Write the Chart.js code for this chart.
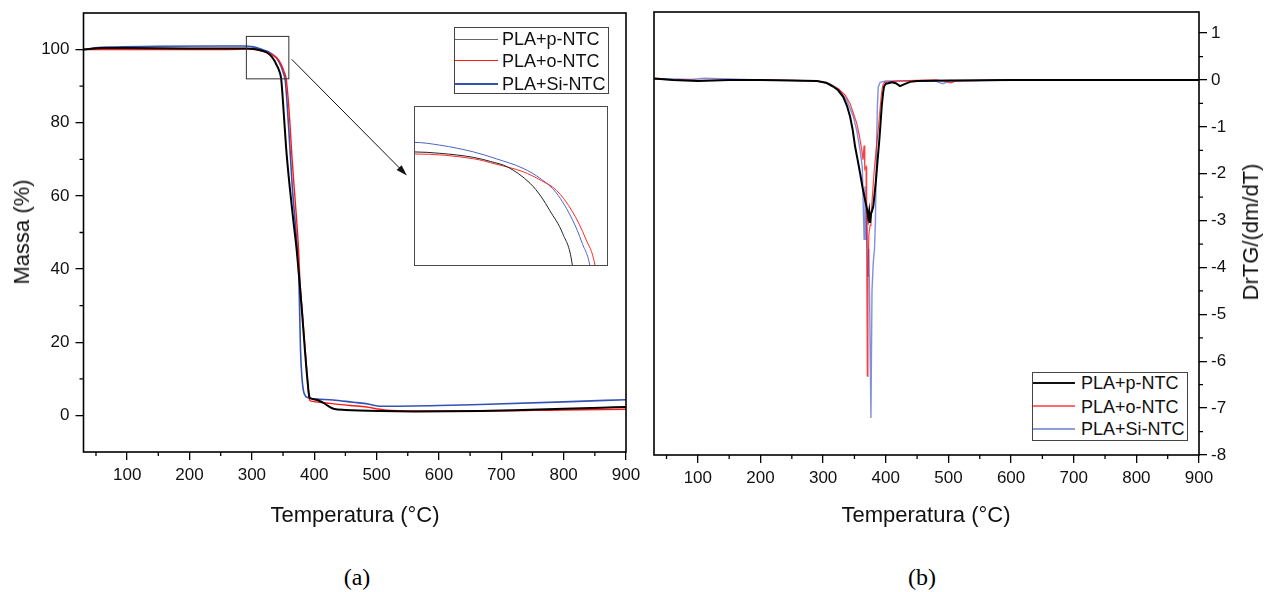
<!DOCTYPE html>
<html>
<head>
<meta charset="utf-8">
<script src="https://cdn.jsdelivr.net/npm/chart.js@4.4.0/dist/chart.umd.min.js"></script>
<style>
body { margin:0; background:#fff; font-family: Arial, "Liberation Sans", sans-serif; }
#wrap { position:relative; width:1274px; height:592px; overflow:hidden; background:#fff; }
.box { position:absolute; }
.t { position:absolute; font-size:22px; color:#111; white-space:nowrap; line-height:26px; }
.leg { position:absolute; border:1px solid #444; background:#fff; box-sizing:border-box; }
.row { position:absolute; left:0; height:22px; line-height:22px; font-size:18px; white-space:nowrap; color:#111; }
.row i { position:absolute; left:0; top:11px; display:block; }
.row span { position:absolute; top:0; }
.cap { position:absolute; font-family:"Liberation Serif","Times New Roman",serif; font-size:24px; line-height:28px; }
</style>
</head>
<body>
<div id="wrap">
  <div class="box" style="left:0;top:0;width:640px;height:540px"><canvas id="tg"></canvas></div>
  <div class="box" style="left:640px;top:0;width:634px;height:540px"><canvas id="dtg"></canvas></div>
  <div class="box" style="left:414px;top:106px;width:194px;height:160px;border:1px solid #4a4a4a;box-sizing:border-box;background:#fff"><canvas id="inset"></canvas></div>

  <div class="leg" id="leg1" style="left:454px;top:27px;width:155px;height:67px"></div>
  <div class="leg" id="leg2" style="left:1032px;top:372px;width:156px;height:69px"></div>

  <div class="t" style="left:255px;top:502px;width:200px;text-align:center">Temperatura (°C)</div>
  <div class="t" style="left:826px;top:502px;width:200px;text-align:center">Temperatura (°C)</div>
  <div class="t" style="left:22px;top:232px;transform:translate(-50%,-50%) rotate(-90deg)">Massa (%)</div>
  <div class="t" style="left:1251px;top:232px;transform:translate(-50%,-50%) rotate(-90deg)">DrTG/(dm/dT)</div>

  <div class="cap" style="left:307px;top:563px;width:100px;text-align:center">(a)</div>
  <div class="cap" style="left:872px;top:563px;width:100px;text-align:center">(b)</div>
</div>
<script>
// series names
const series = ['PLA+p-NTC', 'PLA+o-NTC', 'PLA+Si-NTC'];

// ticks
const xTicks = [100, 200, 300, 400, 500, 600, 700, 800, 900];
const xMinor = [50, 150, 250, 350, 450, 550, 650, 750, 850];
const tgTicks = [0, 20, 40, 60, 80, 100];
const tgMinor = [10, 30, 50, 70, 90];
const dtgTicks = [-8, -7, -6, -5, -4, -3, -2, -1, 0, 1];
const dtgMinor = [-7.5, -6.5, -5.5, -4.5, -3.5, -2.5, -1.5, -0.5, 0.5];

// (a) massa x temperatura
const tgTBlack = [30, 60, 100, 200, 280, 291, 300, 312, 318, 324, 332, 336, 339, 343.6, 347, 350, 355, 361, 366.7, 372, 376.3, 381, 385, 389, 392.3, 395, 405, 414.8, 422, 430.9, 450, 505.8, 560, 666, 720, 800, 860, 900];
const tgMBlack = [100, 100.4, 100.4, 100.3, 100.3, 100.3, 100.2, 99.9, 99.6, 99.2, 98.0, 97.0, 96.0, 94.3, 92.0, 85.5, 73, 62, 53, 45, 37, 27, 18, 10, 5.0, 4.6, 4.2, 3.4, 2.6, 1.8, 1.5, 1.2, 1.1, 1.2, 1.4, 1.8, 2.1, 2.3];

const tgTRed = [30, 100, 200, 280, 291, 312, 320, 329.5, 336, 341.3, 347.1, 351.8, 355, 358, 361, 364, 368, 372, 375, 377, 381, 385.5, 390, 392.5, 395, 420, 457.6, 484.4, 500, 516.5, 560, 666, 800, 900];
const tgMRed = [100, 100.0, 100.0, 100.1, 100.15, 99.8, 99.4, 98.85, 98.2, 97.5, 95.9, 93.9, 92.0, 87, 80, 71.5, 62, 53, 45, 37, 28, 18, 8, 4.2, 3.9, 3.4, 2.7, 2.3, 1.8, 1.4, 1.2, 1.2, 1.5, 1.7];

const tgTBlue = [30, 50, 80, 150, 250, 291, 300, 312, 320, 329.5, 336, 341.3, 347.1, 350.5, 353.6, 356, 358.5, 361.4, 365, 369.4, 373, 375.5, 378, 380.5, 382.7, 386, 388, 393.4, 430, 462.9, 480, 489.7, 505.8, 600, 666, 800, 900];
const tgMBlue = [100, 100.5, 100.7, 100.9, 101.0, 101.0, 100.8, 100.3, 99.8, 99.1, 98.3, 97.3, 95.3, 93.6, 91.5, 86.5, 80, 72, 62, 53, 45, 37, 18, 10, 6.8, 5.3, 5.0, 4.7, 4.2, 3.6, 3.3, 3.0, 2.5, 2.7, 3.0, 3.7, 4.3];

// (b) DrTG x temperatura
const dtgTBlack = [30, 60, 100, 150, 200, 250, 290, 305, 316, 324, 332, 338, 343, 347, 351, 355, 359, 363, 367, 370, 372, 373.5, 375, 376.5, 378, 380, 382, 384.4, 387, 389.7, 391.5, 393.5, 395.5, 397.2, 400, 404, 410, 416, 422.7, 430, 438.7, 450, 500, 600, 700, 800, 900];
const dtgDBlack = [0.03, 0.0, -0.02, 0.0, 0.0, -0.01, -0.02, -0.06, -0.14, -0.22, -0.36, -0.55, -0.78, -1.05, -1.42, -1.7, -1.99, -2.3, -2.56, -2.75, -2.95, -2.8, -3.05, -2.85, -2.8, -2.7, -2.45, -2.13, -1.7, -1.28, -0.95, -0.57, -0.3, -0.14, -0.08, -0.07, -0.05, -0.07, -0.13, -0.09, -0.04, -0.02, -0.01, 0, 0, 0, 0];

const dtgTRed = [30, 100, 200, 290, 310, 325, 335, 342.9, 348, 353.6, 358, 361.6, 363.5, 365.3, 366.5, 368.5, 369.5, 370.5, 371.5, 373, 375, 376.3, 378, 381.5, 385, 388, 391, 393, 395, 397.6, 420, 480, 495, 504, 512, 600, 900];
const dtgDRed = [0.02, -0.01, 0, -0.02, -0.08, -0.2, -0.32, -0.5, -0.7, -0.92, -1.2, -1.49, -1.7, -1.4, -1.9, -1.85, -3.5, -6.32, -4.2, -3.3, -3.1, -2.97, -2.6, -1.93, -1.45, -1.05, -0.6, -0.31, -0.12, -0.05, -0.02, 0, -0.03, -0.06, -0.02, 0, 0];

const dtgTBlue = [30, 90, 110, 200, 290, 310, 325, 337.6, 348.2, 354, 358.9, 362.5, 365.4, 366.8, 368.5, 370, 371.5, 373, 374.5, 376.3, 378, 380, 382, 383.5, 385, 386.5, 388, 391, 400, 480, 491, 500, 600, 900];
const dtgDBlue = [0.03, 0.01, 0.04, 0, -0.02, -0.08, -0.2, -0.43, -0.78, -1.1, -1.49, -1.85, -3.4, -2.27, -3.4, -2.9, -4.2, -3.6, -5.0, -7.21, -4.5, -3.9, -3.6, -3.0, -1.6, -0.6, -0.15, -0.05, -0.02, -0.03, -0.08, -0.03, 0, 0];

// zoom window shown in the inset, and the arrow (data units of chart a)
const zoomT = [291.2, 359.3];
const zoomM = [92.0, 103.6];
const arrowT = [364.1, 548.6];
const arrowM = [97.3, 65.6];

const font = { family: 'Arial, "Liberation Sans", sans-serif', size: 17 };

function pts(xs, ys) {
  return xs.map((x, i) => ({ x: x, y: ys[i] }));
}
function ds(label, xs, ys, color, w, smooth) {
  return {
    label: label, data: pts(xs, ys), borderColor: color, borderWidth: w,
    pointRadius: 0, fill: false,
    cubicInterpolationMode: smooth ? 'monotone' : 'default', tension: 0
  };
}

const framePlugin = {
  id: 'frame',
  afterDatasetsDraw(chart, args, o) {
    if (!o || !o.on) return;
    const ctx = chart.ctx, a = chart.chartArea, x = chart.scales.x, y = chart.scales.y;
    ctx.save();
    ctx.strokeStyle = '#000';
    ctx.lineWidth = 1.6;
    ctx.strokeRect(a.left, a.top, a.right - a.left, a.bottom - a.top);
    ctx.lineWidth = 1.3;
    ctx.beginPath();
    xMinor.forEach(v => {
      const p = x.getPixelForValue(v);
      ctx.moveTo(p, a.bottom); ctx.lineTo(p, a.bottom + 4);
    });
    (o.right ? dtgMinor : tgMinor).forEach(v => {
      const p = y.getPixelForValue(v);
      if (o.right) { ctx.moveTo(a.right, p); ctx.lineTo(a.right + 4, p); }
      else { ctx.moveTo(a.left - 4, p); ctx.lineTo(a.left, p); }
    });
    ctx.stroke();
    if (o.zoom) {
      // zoom rectangle
      const x0 = x.getPixelForValue(zoomT[0]), x1 = x.getPixelForValue(zoomT[1]);
      const y0 = y.getPixelForValue(zoomM[1]), y1 = y.getPixelForValue(zoomM[0]);
      ctx.strokeStyle = '#333';
      ctx.lineWidth = 1;
      ctx.strokeRect(x0, y0, x1 - x0, y1 - y0);
      // arrow
      const ax = x.getPixelForValue(arrowT[0]), ay = y.getPixelForValue(arrowM[0]);
      const bx = x.getPixelForValue(arrowT[1]), by = y.getPixelForValue(arrowM[1]);
      const ang = Math.atan2(by - ay, bx - ax);
      ctx.strokeStyle = '#111';
      ctx.beginPath();
      ctx.moveTo(ax, ay);
      ctx.lineTo(bx - 8 * Math.cos(ang), by - 8 * Math.sin(ang));
      ctx.stroke();
      ctx.fillStyle = '#111';
      ctx.beginPath();
      ctx.moveTo(bx, by);
      ctx.lineTo(bx - 11 * Math.cos(ang) + 3.5 * Math.sin(ang), by - 11 * Math.sin(ang) - 3.5 * Math.cos(ang));
      ctx.lineTo(bx - 11 * Math.cos(ang) - 3.5 * Math.sin(ang), by - 11 * Math.sin(ang) + 3.5 * Math.cos(ang));
      ctx.closePath();
      ctx.fill();
    }
    ctx.restore();
  }
};

const gridOpt = { drawOnChartArea: false, drawTicks: true, tickLength: 8, color: '#000', lineWidth: 1.3 };

function xScale(h) {
  return {
    type: 'linear', min: 30, max: 900,
    afterBuildTicks: s => { s.ticks = xTicks.map(v => ({ value: v })); },
    afterFit: s => { s.height = h; s.paddingLeft = 0; s.paddingRight = 0; },
    ticks: { font: font, color: '#111', padding: 5, maxRotation: 0, autoSkip: false, callback: v => String(v) },
    grid: gridOpt, border: { display: false }
  };
}

// Gráfico (a)
new Chart(document.getElementById('tg'), {
  type: 'line',
  data: {
    datasets: [
      ds(series[0], tgTBlack, tgMBlack, '#000', 2, true),
      ds(series[1], tgTRed, tgMRed, '#ff1a1a', 1.4, true),
      ds(series[2], tgTBlue, tgMBlue, '#3352b5', 1.6, true)
    ]
  },
  options: {
    animation: false, responsive: true, maintainAspectRatio: false,
    layout: { padding: { top: 13, right: 14, left: 0, bottom: 0 } },
    plugins: { legend: { display: false }, tooltip: { enabled: false }, frame: { on: true, zoom: true } },
    scales: {
      x: xScale(88),
      y: {
        type: 'linear', min: -10, max: 110,
        afterBuildTicks: s => { s.ticks = tgTicks.map(v => ({ value: v })); },
        afterFit: s => { s.width = 83.5; s.paddingTop = 0; s.paddingBottom = 0; },
        ticks: { font: font, color: '#111', padding: 6, autoSkip: false, callback: v => String(v) },
        grid: gridOpt, border: { display: false }
      }
    }
  },
  plugins: [framePlugin]
});

// Gráfico (b)
new Chart(document.getElementById('dtg'), {
  type: 'line',
  data: {
    datasets: [
      ds(series[0], dtgTBlack, dtgDBlack, '#000', 2, false),
      ds(series[1], dtgTRed, dtgDRed, 'rgba(255,0,0,0.75)', 1.2, false),
      ds(series[2], dtgTBlue, dtgDBlue, 'rgba(40,70,200,0.6)', 1.4, false)
    ]
  },
  options: {
    animation: false, responsive: true, maintainAspectRatio: false,
    layout: { padding: { top: 12, right: 0, left: 14, bottom: 0 } },
    plugins: { legend: { display: false }, tooltip: { enabled: false }, frame: { on: true, right: true } },
    scales: {
      x: xScale(85),
      y: {
        type: 'linear', position: 'right', min: -8, max: 1.45,
        afterBuildTicks: s => { s.ticks = dtgTicks.map(v => ({ value: v })); },
        afterFit: s => { s.width = 75; s.paddingTop = 0; s.paddingBottom = 0; },
        ticks: { font: font, color: '#111', padding: 4, autoSkip: false, callback: v => String(v) },
        grid: gridOpt, border: { display: false }
      }
    }
  },
  plugins: [framePlugin]
});

// detalhe ampliado
new Chart(document.getElementById('inset'), {
  type: 'line',
  data: {
    datasets: [
      ds(series[0], tgTBlack, tgMBlack, '#222', 1, true),
      ds(series[1], tgTRed, tgMRed, '#ff2a2a', 1, true),
      ds(series[2], tgTBlue, tgMBlue, '#4a64c4', 1, true)
    ]
  },
  options: {
    animation: false, responsive: true, maintainAspectRatio: false,
    layout: { padding: 0 },
    plugins: { legend: { display: false }, tooltip: { enabled: false } },
    scales: {
      x: { type: 'linear', min: zoomT[0], max: zoomT[1], display: false },
      y: { type: 'linear', min: zoomM[0], max: zoomM[1], display: false }
    }
  }
});

// legendas
function legend(id, colors, widths, sampleW, textX, rowTops) {
  const box = document.getElementById(id);
  series.forEach((name, i) => {
    const r = document.createElement('div');
    r.className = 'row';
    r.style.top = rowTops[i] + 'px';
    r.style.width = '100%';
    const l = document.createElement('i');
    l.style.width = sampleW + 'px';
    l.style.borderTop = widths[i] + 'px solid ' + colors[i];
    l.style.marginTop = (-widths[i] / 2) + 'px';
    const s = document.createElement('span');
    s.style.left = textX + 'px';
    s.textContent = name;
    r.appendChild(l);
    r.appendChild(s);
    box.appendChild(r);
  });
}
legend('leg1', ['#666', '#ff1a1a', '#3352b5'], [1, 1.5, 2], 43, 47, [0, 22, 44.5]);
legend('leg2', ['#111', 'rgba(255,70,70,0.8)', 'rgba(110,135,210,0.8)'], [2, 2.5, 2], 42, 48, [-1, 22.5, 45]);
</script>
</body>
</html>
